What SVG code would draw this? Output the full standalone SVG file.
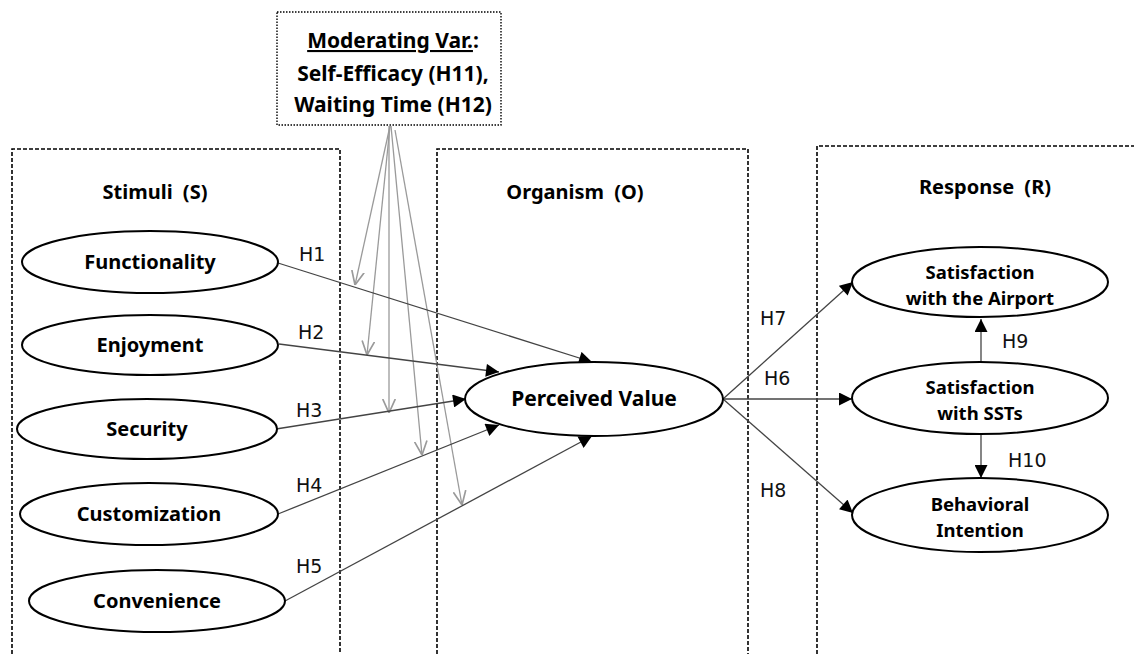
<svg xmlns="http://www.w3.org/2000/svg" width="1134" height="654" viewBox="0 0 1134 654">
<style>
.panel{fill:none;stroke:#000;stroke-width:1.6;stroke-dasharray:4 2}
.mod{fill:#fff;stroke:#000;stroke-width:1.4;stroke-dasharray:1.5 1.5}
.node{fill:#fff;stroke:#000;stroke-width:2}
.t{font-family:"Noto Sans","Liberation Sans",sans-serif;font-weight:bold;font-size:20px;fill:#000;text-anchor:middle}
.m{font-size:21px}
.two{font-size:18.5px}
.ti{word-spacing:5px}
.h{font-family:"DejaVu Sans","Liberation Sans",sans-serif;font-size:19px;fill:#111;text-anchor:start}
.c{fill:none;stroke:#444;stroke-width:1.3}
.g{fill:none;stroke:#9a9a9a;stroke-width:1.3}
</style>
<defs>
<marker id="ah" viewBox="0 0 10 10" refX="10" refY="5" markerWidth="14" markerHeight="13" markerUnits="userSpaceOnUse" orient="auto">
<path d="M0,0 L10,5 L0,10 z" fill="#000"/>
</marker>
<marker id="oh" viewBox="0 0 10 10" refX="10" refY="5" markerWidth="14" markerHeight="14" markerUnits="userSpaceOnUse" orient="auto">
<path d="M0,0.5 L10,5 L0,9.5" fill="none" stroke="#9a9a9a" stroke-width="1.2"/>
</marker>
</defs>
<rect width="1134" height="654" fill="#fff"/>
<g id="panels">
<path class="panel" d="M12,660 V149 H340 V660"/>
<path class="panel" d="M437,660 V149 H748 V660"/>
<path class="panel" d="M817,660 V146 H1140"/>
<text class="t ti" x="155" y="199">Stimuli (S)</text>
<text class="t ti" x="575" y="199">Organism (O)</text>
<text class="t ti" x="985" y="194">Response (R)</text>
</g>
<g id="connectors">
<line class="g" x1="390" y1="126" x2="355" y2="285" marker-end="url(#oh)"/>
<line class="g" x1="390" y1="126" x2="367" y2="355" marker-end="url(#oh)"/>
<line class="g" x1="389" y1="126" x2="389" y2="413" marker-end="url(#oh)"/>
<line class="g" x1="391" y1="126" x2="422" y2="455" marker-end="url(#oh)"/>
<line class="g" x1="395" y1="130" x2="462" y2="505" marker-end="url(#oh)"/>
<line class="c" x1="278" y1="263" x2="592" y2="362" marker-end="url(#ah)"/>
<line class="c" x1="279" y1="344" x2="499" y2="372" marker-end="url(#ah)"/>
<line class="c" x1="276" y1="429" x2="466" y2="399" marker-end="url(#ah)"/>
<line class="c" x1="278" y1="514" x2="499" y2="425" marker-end="url(#ah)"/>
<line class="c" x1="285" y1="601" x2="592" y2="436" marker-end="url(#ah)"/>
<line class="c" x1="723" y1="399" x2="853" y2="282" marker-end="url(#ah)"/>
<line class="c" x1="723" y1="399" x2="852" y2="399" marker-end="url(#ah)"/>
<line class="c" x1="723" y1="399" x2="853" y2="513" marker-end="url(#ah)"/>
<line class="c" x1="981" y1="362" x2="981" y2="319" marker-end="url(#ah)"/>
<line class="c" x1="981" y1="434" x2="981" y2="478" marker-end="url(#ah)"/>
<text class="h" x="299" y="261">H1</text>
<text class="h" x="298" y="339">H2</text>
<text class="h" x="296" y="417">H3</text>
<text class="h" x="296" y="492">H4</text>
<text class="h" x="296" y="573">H5</text>
<text class="h" x="764" y="385">H6</text>
<text class="h" x="760" y="325">H7</text>
<text class="h" x="760" y="497">H8</text>
<text class="h" x="1002" y="348">H9</text>
<text class="h" x="1008" y="467">H10</text>
</g>
<g id="moderator">
<rect class="mod" x="277" y="12" width="224" height="113"/>
<text class="t m" x="393" y="48"><tspan text-decoration="underline">Moderating Var.</tspan>:</text>
<text class="t m" x="393" y="81">Self-Efficacy (H11),</text>
<text class="t m" x="393" y="112">Waiting Time (H12)</text>
</g>
<g id="functionality"><ellipse class="node" cx="150" cy="262" rx="128" ry="31"/><text class="t" x="150" y="269">Functionality</text></g>
<g id="enjoyment"><ellipse class="node" cx="150" cy="345" rx="128" ry="30"/><text class="t" x="150" y="352">Enjoyment</text></g>
<g id="security"><ellipse class="node" cx="147" cy="429" rx="130" ry="30"/><text class="t" x="147" y="436">Security</text></g>
<g id="customization"><ellipse class="node" cx="149" cy="514" rx="129" ry="31"/><text class="t" x="149" y="521">Customization</text></g>
<g id="convenience"><ellipse class="node" cx="157" cy="601" rx="128" ry="31"/><text class="t" x="157" y="608">Convenience</text></g>
<g id="perceived-value"><ellipse class="node" cx="594" cy="399" rx="129" ry="37"/><text class="t m" x="594" y="406">Perceived Value</text></g>
<g id="sat-airport"><ellipse class="node" cx="980" cy="282" rx="128" ry="35"/><text class="t two" x="980" y="279">Satisfaction<tspan x="980" dy="25.5">with the Airport</tspan></text></g>
<g id="sat-ssts"><ellipse class="node" cx="980" cy="398" rx="128" ry="36"/><text class="t two" x="980" y="394">Satisfaction<tspan x="980" dy="25.5">with SSTs</tspan></text></g>
<g id="behavioral-intention"><ellipse class="node" cx="980" cy="515" rx="128" ry="37"/><text class="t two" x="980" y="511">Behavioral<tspan x="980" dy="25.5">Intention</tspan></text></g>
</svg>
